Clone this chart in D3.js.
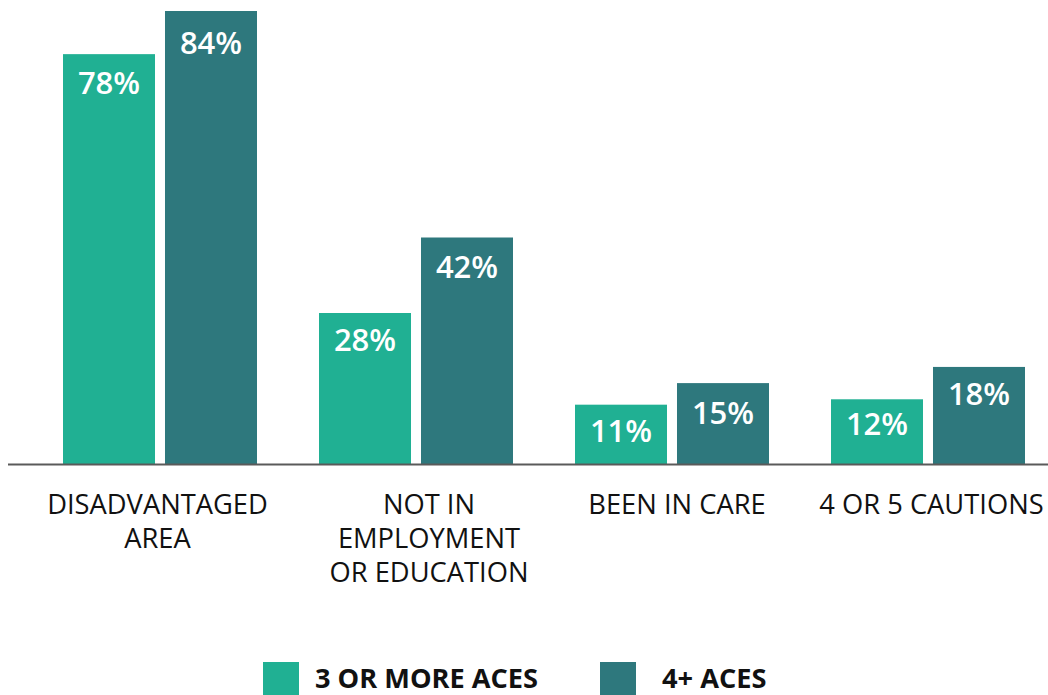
<!DOCTYPE html>
<html>
<head>
<meta charset="utf-8">
<script src="https://cdn.jsdelivr.net/npm/d3@7"></script>
<style>
  html, body { margin: 0; padding: 0; background: #fff; overflow: hidden; }
  svg { display: block; font-family: "Open Sans", sans-serif; }
</style>
</head>
<body>
<svg id="chart" width="1048" height="695"></svg>
<script>
// Data
const categories = [
  ["DISADVANTAGED", "AREA"],
  ["NOT IN", "EMPLOYMENT", "OR EDUCATION"],
  ["BEEN IN CARE"],
  ["4 OR 5 CAUTIONS"]
];
const seriesNames = ["3 OR MORE ACES", "4+ ACES"];
// bar heights as drawn in the picture
const values3Plus = [76, 28, 11, 12];
const values4Plus = [84, 42, 15, 18];
// value labels as printed on the bars
const labels3Plus = ["78%", "28%", "11%", "12%"];
const labels4Plus = ["84%", "42%", "15%", "18%"];

// layout / style (kept apart from the data)
const colors = ["#20b093", "#2e787d"];
const labelDy3 = [40, 38, 37, 36];
const labelDy4 = [43, 40, 41, 38];
const catLabelShift = [-2.5, 13, 5, 3.5];

const svg = d3.select("#chart");
const baseY = 464;

const catKeys = categories.map((c, i) => i);
const x0 = d3.scaleBand().domain(catKeys).range([32, 1056]).paddingInner(0).paddingOuter(0);
const x1 = d3.scaleBand().domain([0, 1]).range([31, 225]).paddingInner(0.098).paddingOuter(0);
const y = d3.scaleLinear().domain([0, 84]).range([baseY, 11]);

const rows = catKeys.map(i => [
  { s: 0, v: values3Plus[i], label: labels3Plus[i], dy: labelDy3[i] },
  { s: 1, v: values4Plus[i], label: labels4Plus[i], dy: labelDy4[i] }
]);

const groups = svg.append("g").selectAll("g")
  .data(rows).join("g")
  .attr("transform", (d, i) => `translate(${x0(i)},0)`);

groups.selectAll("rect")
  .data(d => d).join("rect")
  .attr("x", d => x1(d.s))
  .attr("width", x1.bandwidth())
  .attr("y", d => y(d.v))
  .attr("height", d => baseY - y(d.v))
  .attr("fill", d => colors[d.s]);

groups.selectAll("text.val")
  .data(d => d).join("text")
  .attr("class", "val")
  .attr("x", d => x1(d.s) + x1.bandwidth() / 2)
  .attr("y", d => y(d.v) + d.dy)
  .attr("text-anchor", "middle")
  .attr("fill", "#fff")
  .attr("font-size", 31)
  .attr("font-weight", 600)
  .text(d => d.label);

// baseline axis
svg.append("line")
  .attr("x1", 8).attr("x2", 1048)
  .attr("y1", baseY + 0.5).attr("y2", baseY + 0.5)
  .attr("stroke", "#5a5a5a").attr("stroke-width", 2);

// category labels
const catLabels = svg.append("g").selectAll("text")
  .data(categories).join("text")
  .attr("x", (d, i) => x0(i) + x0.bandwidth() / 2 + catLabelShift[i])
  .attr("y", 514)
  .attr("text-anchor", "middle")
  .attr("fill", "#111")
  .attr("font-size", 27.3);
catLabels.selectAll("tspan")
  .data(d => d).join("tspan")
  .attr("x", function () { return d3.select(this.parentNode).attr("x"); })
  .attr("dy", (d, i) => i === 0 ? 0 : 34)
  .text(d => d);

// legend
const legendX = [263, 600];
const legend = svg.append("g").selectAll("g")
  .data(seriesNames).join("g")
  .attr("transform", (d, i) => `translate(${legendX[i]},0)`);
legend.append("rect")
  .attr("x", 0).attr("y", 662)
  .attr("width", 36).attr("height", 40)
  .attr("fill", (d, i) => colors[i]);
legend.append("text")
  .attr("x", (d, i) => i === 0 ? 52 : 62)
  .attr("y", 688)
  .attr("font-size", 27.2)
  .attr("font-weight", 700)
  .attr("fill", "#111")
  .text(d => d);
</script>
</body>
</html>
